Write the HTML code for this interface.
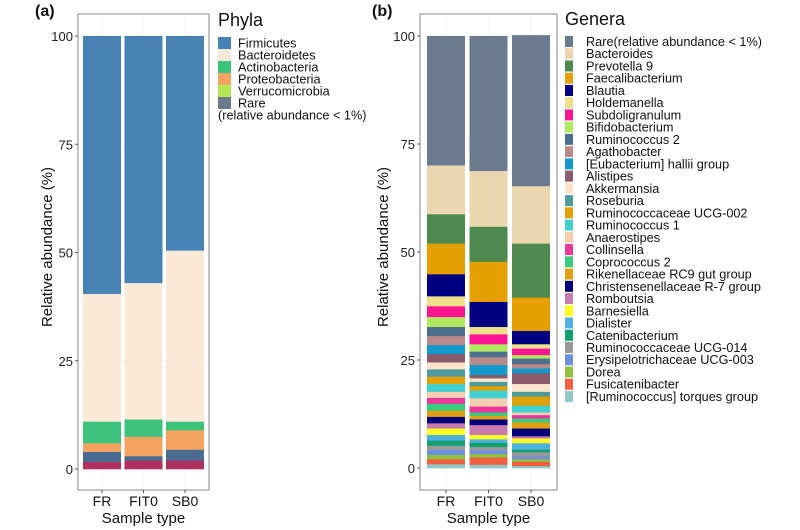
<!DOCTYPE html>
<html><head><meta charset="utf-8"><style>
body{margin:0;background:#fff;}
svg{display:block;font-family:"Liberation Sans",Arial,sans-serif;}
</style></head><body>
<svg id="chart" width="800" height="530" viewBox="0 0 800 530"></svg>
<script>
// ---------- Data ----------
const samples = ["FR","FIT0","SB0"];
const yTicks = [0,25,50,75,100];
// Panel (a) phyla (stack bottom -> top)
const phylaStackNames = ["Other","Rare","Proteobacteria","Actinobacteria","Bacteroidetes","Firmicutes"];
const phylaFR   = [1.7,2.3,2.0,5.0,29.5,59.5];
const phylaFIT0 = [2.0,1.0,4.5,4.0,31.5,57.0];
const phylaSB0  = [2.0,2.5,4.5,2.0,39.5,49.5];
const phylaLegend = ["Firmicutes","Bacteroidetes","Actinobacteria","Proteobacteria","Verrucomicrobia","Rare"];
// Panel (b) genera (legend order, top of stack first)
const genera = ["Rare(relative abundance < 1%)","Bacteroides","Prevotella 9","Faecalibacterium","Blautia","Holdemanella","Subdoligranulum","Bifidobacterium","Ruminococcus 2","Agathobacter","[Eubacterium] hallii group","Alistipes","Akkermansia","Roseburia","Ruminococcaceae UCG-002","Ruminococcus 1","Anaerostipes","Collinsella","Coprococcus 2","Rikenellaceae RC9 gut group","Christensenellaceae R-7 group","Romboutsia","Barnesiella","Dialister","Catenibacterium","Ruminococcaceae UCG-014","Erysipelotrichaceae UCG-003","Dorea","Fusicatenibacter","[Ruminococcus] torques group"];
const generaFR   = [29.9,11.3,6.8,7.1,5.1,2.3,2.5,2.3,2.1,2.1,2.1,1.9,1.6,1.7,1.7,1.8,1.4,1.4,1.6,1.4,1.5,1.2,1.5,1.3,1.2,1.0,1.1,1.0,1.2,0.9];
const generaFIT0 = [31.2,12.9,8.1,9.3,5.8,1.7,2.3,1.7,1.3,1.8,2.3,0.8,0.8,1.0,1.0,1.8,1.9,1.4,0.8,0.8,1.3,2.3,1.0,0.8,1.0,0.8,0.8,0.8,1.7,0.8];
const generaSB0  = [34.9,13.3,12.5,7.7,3.1,1.0,1.5,0.8,1.3,1.0,1.1,2.5,1.8,1.1,2.1,1.6,0.6,0.8,0.9,1.4,1.8,0.5,1.1,1.5,0.6,1.0,0.6,0.6,1.0,0.5];

const phylaColors = {Firmicutes:"#4682b4",Bacteroidetes:"#fbe9d7",Actinobacteria:"#3cc47c",Proteobacteria:"#f4a460",Verrucomicrobia:"#b5e655",Rare:"#4a6c92",Other:"#b03060"};
const phylaLegendColors = {Firmicutes:"#4682b4",Bacteroidetes:"#fbe9d7",Actinobacteria:"#3cc47c",Proteobacteria:"#f4a460",Verrucomicrobia:"#b5e655",Rare:"#6b7a8f"};
const genusColors = ["#6b7a8f","#ead7b0","#4e8a4e","#e69f00","#000080","#f0e08c","#ff1493","#b0e860","#4e6e8e","#b88a8a","#1199cc","#8b5a6b","#fae5cc","#4f9a9a","#e0a000","#40d0d0","#f5d0b0","#e8389a","#3acc7a","#e0a010","#00007a","#c77bb0","#ffff20","#50b0e0","#10a070","#999999","#6a8fe0","#90c040","#f06040","#90c8c8"];

// ---------- Helpers ----------
const svg = document.getElementById('chart');
const NS = "http://www.w3.org/2000/svg";
function mk(tag, attrs, parent){const e=document.createElementNS(NS,tag);for(const k in attrs)e.setAttribute(k,attrs[k]);(parent||svg).appendChild(e);return e;}
function txt(s, attrs, parent){const e=mk('text',attrs,parent);e.textContent=s;return e;}

function panel(opt){
  const {left,right,top,bottom,y0,y100,bars,barW,label,labelX,titleX,id}=opt;
  const y = v => y0 - (y0-y100)*v/100;
  const g = mk('g',{});
  
  
  yTicks.forEach(t=>{const l=mk('line',{x1:left,x2:right,y1:y(t),y2:y(t),stroke:"#f0f0f0","stroke-width":0.8},g);
     });
  bars.forEach(b=>{const l=mk('line',{x1:b.cx,x2:b.cx,y1:top,y2:bottom,stroke:"#f0f0f0","stroke-width":0.8},g);
     });
  bars.forEach(b=>{
    let cum=0;
    b.values.forEach((v,i)=>{
      const r=mk('rect',{x:b.cx-barW/2,y:y(cum+v),width:barW,height:Math.max(0,y(cum)-y(cum+v))+0.3,fill:b.colors[i]},g);
      
      
      cum+=v;
    });
  });
  const br=mk('rect',{x:left,y:top,width:right-left,height:bottom-top,fill:"none",stroke:"#888","stroke-width":1},g);
   
  yTicks.forEach(t=>{
    const tk=mk('line',{x1:left-3,x2:left,y1:y(t),y2:y(t),stroke:"#555"},g);
     
    const tl=txt(String(t),{x:left-5,y:y(t)+5,"text-anchor":"end","font-size":13,fill:"#222"},g);
     
  });
  bars.forEach(b=>{
    const tk=mk('line',{x1:b.cx,x2:b.cx,y1:bottom,y2:bottom+3,stroke:"#555"},g);
     
    const tl=txt(b.name,{x:b.cx,y:bottom+16,"text-anchor":"middle","font-size":14,fill:"#111"},g);
     
  });
  const xt=txt("Sample type",{x:(left+right)/2,y:bottom+33,"text-anchor":"middle","font-size":15,fill:"#111"},g);
   
  const yt=txt("Relative abundance (%)",{x:0,y:0,transform:`translate(${titleX},${(top+bottom)/2-5}) rotate(-90)`,"text-anchor":"middle","font-size":15,fill:"#111"},g);
   
  const pl=txt(label,{x:labelX,y:16,"font-size":16,"font-weight":"bold",fill:"#111"},g);
   
}

const aColors = phylaStackNames.map(n=>phylaColors[n]);
panel({id:'phyla',left:78,right:209,top:14,bottom:490,y0:469,y100:36,barW:38,label:"(a)",labelX:35,titleX:52,
  bars:[{name:"FR",cx:102,values:phylaFR,colors:aColors,names:phylaStackNames},
        {name:"FIT0",cx:143.5,values:phylaFIT0,colors:aColors,names:phylaStackNames},
        {name:"SB0",cx:185,values:phylaSB0,colors:aColors,names:phylaStackNames}]});

const gRevNames = genera.slice().reverse();
const gRevColors = genusColors.slice().reverse();
panel({id:'genera',left:420,right:557,top:14,bottom:490,y0:468,y100:36,barW:38,label:"(b)",labelX:372,titleX:388,
  bars:[{name:"FR",cx:446,values:generaFR.slice().reverse(),colors:gRevColors,names:gRevNames},
        {name:"FIT0",cx:488.5,values:generaFIT0.slice().reverse(),colors:gRevColors,names:gRevNames},
        {name:"SB0",cx:531,values:generaSB0.slice().reverse(),colors:gRevColors,names:gRevNames}]});

const la=mk('g',{});
 
const lat=txt("Phyla",{x:218,y:26,"font-size":18,fill:"#111"},la);
 
phylaLegend.forEach((n,i)=>{
  const cy=43+i*12;
  const r=mk('rect',{x:218,y:cy-6,width:13,height:12,fill:phylaLegendColors[n]},la);
   
  const t=txt(n,{x:238,y:cy+4.5,"font-size":12.7,fill:"#111"},la);
   
});
const lan=txt("(relative abundance < 1%)",{x:218,y:43+6*12+4.5,"font-size":12.7,fill:"#111"},la);
 

const lb=mk('g',{});
 
const lbt=txt("Genera",{x:565,y:25,"font-size":18,fill:"#111"},lb);
 
genera.forEach((n,i)=>{
  const cy=41.5+i*12.24;
  const r=mk('rect',{x:565,y:cy-5.5,width:8,height:11,fill:genusColors[i]},lb);
   
  const t=txt(n,{x:586,y:cy+4.5,"font-size":12.7,fill:"#111"},lb);
   
});
</script>
</body></html>
